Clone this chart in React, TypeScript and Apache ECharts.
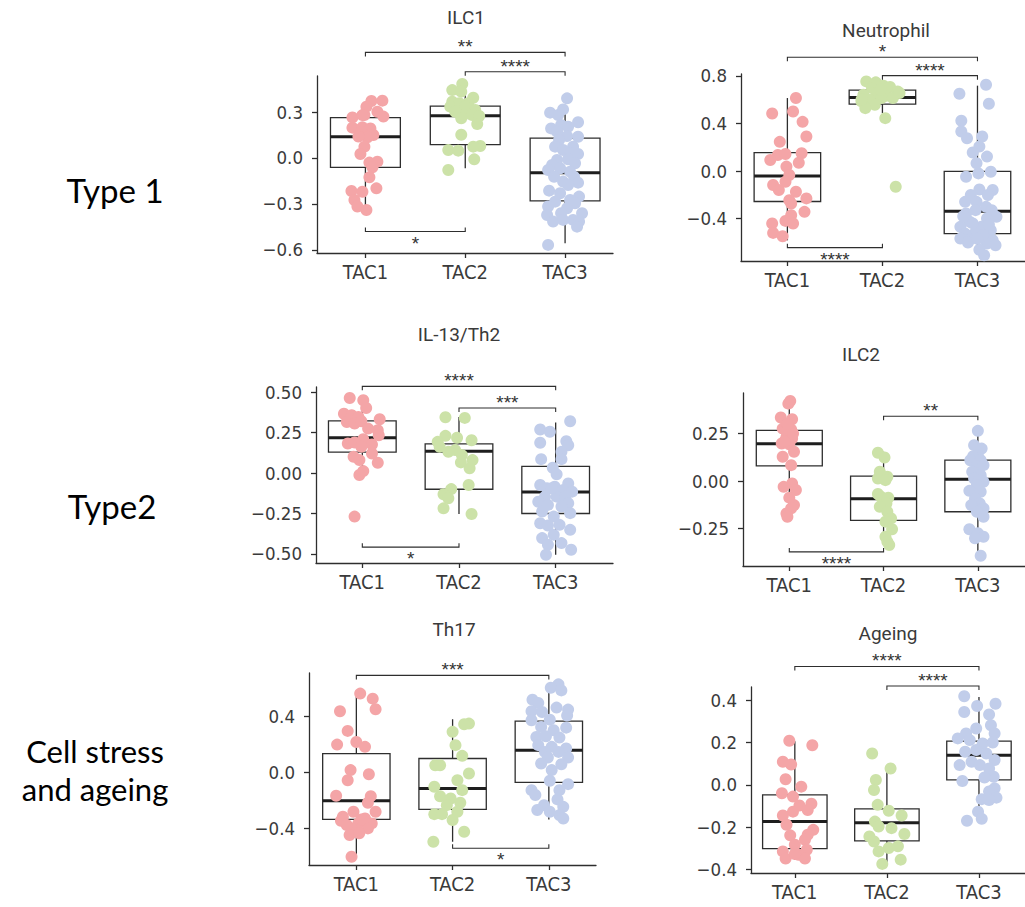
import React, { useEffect, useRef } from 'react';
import * as echarts from 'echarts';

// ---------- shared categories / styling values ----------
const groups = ['TAC1', 'TAC2', 'TAC3'];
const groupColors = ['#F4A5A7', '#CCE2A8', '#C1CDEA'];
const panelTitles = ['ILC1', 'Neutrophil', 'IL-13/Th2', 'ILC2', 'Th17', 'Ageing'];
const rowLabels = ['Type 1', 'Type2', 'Cell stress\nand ageing'];

// Box stats per group: [lower whisker, Q1, median, Q3, upper whisker]
// Brackets: [from group, to group, y value, side, significance stars]
// Points: [horizontal jitter (category units), score]

// ---------- ILC1 ----------
const ilc1Ticks = [-0.6, -0.3, 0, 0.3];
const ilc1Boxes = [
  [-0.34, -0.061, 0.139, 0.263, 0.36],
  [-0.067, 0.087, 0.276, 0.339, 0.448],
  [-0.557, -0.28, -0.096, 0.13, 0.29],
];
const ilc1Brackets = [
  [0, 2, 0.689, 'top', '**'],
  [1, 2, 0.563, 'top', '****'],
  [0, 1, -0.48, 'bottom', '*'],
];
const ilc1Tac1 = [
  [0.06, 0.372], [0.17, 0.374], [0.01, 0.335], [0.12, 0.302], [0.18, 0.27], [-0.13, 0.265],
  [-0.01, 0.28], [-0.03, 0.28], [-0.13, 0.198], [-0.03, 0.2], [0.05, 0.193], [-0.04, 0.172],
  [0.08, 0.15], [0.02, 0.135], [-0.07, 0.14], [-0.01, 0.074], [-0.05, 0.026], [0.04, -0.03],
  [0.12, -0.024], [0.07, -0.061], [0.04, -0.126], [0.11, -0.198], [-0.14, -0.215], [-0.03, -0.22],
  [-0.11, -0.274], [-0.08, -0.317], [0.01, -0.339],
];
const ilc1Tac2 = [
  [-0.03, 0.483], [-0.13, 0.443], [-0.04, 0.433], [0.08, 0.393], [-0.13, 0.367], [-0.06, 0.357],
  [0.03, 0.357], [-0.15, 0.335], [0, 0.335], [0.1, 0.313], [-0.1, 0.302], [-0.02, 0.28],
  [0.07, 0.28], [0.14, 0.274], [-0.04, 0.259], [0.12, 0.222], [-0.04, 0.152], [0.15, 0.078],
  [0.08, 0.074], [-0.17, 0.052], [-0.07, 0.048], [0.09, -0.009], [-0.17, -0.078],
];
const ilc1Tac3 = [
  [0.02, 0.389], [-0.15, 0.296], [-0.07, 0.28], [-0.02, 0.317], [0.13, 0.233], [-0.04, 0.215],
  [-0.14, 0.193], [0.03, 0.204], [-0.08, 0.172], [0.02, 0.143], [0.13, 0.139], [-0.06, 0.117],
  [-0.1, 0.074], [0.08, 0.074], [-0.02, 0.052], [0.05, 0.03], [0.13, 0.026], [-0.08, -0.013],
  [0.03, -0.009], [0.1, -0.035], [-0.13, -0.046], [-0.05, -0.067], [-0.17, -0.078], [0.05, -0.089],
  [-0.11, -0.122], [0.09, -0.122], [-0.02, -0.154], [0.13, -0.161], [0.03, -0.176], [-0.16, -0.213],
  [-0.05, -0.23], [0.14, -0.252], [0.05, -0.274], [-0.1, -0.285], [0.1, -0.296], [-0.17, -0.317],
  [0.02, -0.328], [-0.04, -0.361], [-0.18, -0.372], [0.17, -0.361], [0.08, -0.404], [-0.12, -0.415],
  [-0.02, -0.404], [0.14, -0.415], [0.12, -0.448], [-0.17, -0.567],
];

// ---------- Neutrophil ----------
const neutrophilTicks = [-0.4, 0, 0.4, 0.8];
const neutrophilBoxes = [
  [-0.582, -0.256, -0.042, 0.155, 0.613],
  [0.486, 0.562, 0.618, 0.68, 0.76],
  [-0.7, -0.526, -0.337, -0.003, 0.717],
];
const neutrophilBrackets = [
  [0, 2, 0.956, 'top', '*'],
  [1, 2, 0.801, 'top', '****'],
  [0, 1, -0.644, 'bottom', '****'],
];
const neutrophilTac1 = [
  [0.09, 0.613], [-0.16, 0.483], [0.06, 0.5], [0.16, 0.413], [0.2, 0.29], [-0.08, 0.245],
  [-0.1, 0.135], [-0.02, 0.143], [0.15, 0.149], [-0.18, 0.093], [0.12, 0.07], [-0.01, 0.037],
  [0.02, -0.034], [-0.15, -0.118], [-0.02, -0.09], [-0.09, -0.16], [0.09, -0.174], [0.2, -0.23],
  [0.02, -0.245], [0.04, -0.273], [0.18, -0.343], [0.04, -0.371], [-0.02, -0.419], [0.06, -0.441],
  [-0.16, -0.441], [-0.15, -0.52], [-0.05, -0.548],
];
const neutrophilTac2 = [
  [-0.17, 0.753], [-0.07, 0.745], [0.01, 0.717], [-0.11, 0.697], [0.08, 0.706], [0.16, 0.669],
  [-0.2, 0.641], [-0.06, 0.655], [0.04, 0.632], [-0.13, 0.599], [-0.01, 0.613], [0.11, 0.613],
  [-0.22, 0.585], [-0.08, 0.557], [-0.18, 0.528], [0.03, 0.444], [0.14, -0.132], [-0.02, 0.683],
  [0.18, 0.655], [-0.22, 0.6],
];
const neutrophilTac3 = [
  [0.09, 0.725], [-0.19, 0.649], [0.12, 0.565], [-0.17, 0.422], [-0.17, 0.332], [-0.11, 0.275],
  [0.05, 0.29], [0.02, 0.205], [-0.05, 0.155], [0.1, 0.121], [-0.01, 0.065], [0.14, -0.006],
  [0.01, -0.02], [-0.12, -0.048], [0.16, -0.16], [0.02, -0.155], [-0.07, -0.202], [-0.13, -0.259],
  [-0.01, -0.259], [0.11, -0.202], [0.09, -0.301], [-0.02, -0.329], [-0.12, -0.357], [0.15, -0.329],
  [0.2, -0.385], [-0.08, -0.427], [0.1, -0.399], [-0.18, -0.469], [0.04, -0.469], [-0.02, -0.512],
  [0.14, -0.498], [-0.13, -0.526], [-0.18, -0.568], [-0.09, -0.582], [0.16, -0.582], [0.1, -0.61],
  [0.19, -0.624], [0.02, -0.661], [0.07, -0.708], [-0.05, -0.44], [0.06, -0.54], [-0.1, -0.6],
  [0.12, -0.45], [-0.15, -0.38], [0, -0.57],
];

// ---------- IL-13/Th2 ----------
const il13Ticks = [-0.5, -0.25, 0, 0.25, 0.5];
const il13Boxes = [
  [0.029, 0.129, 0.218, 0.322, 0.4],
  [-0.253, -0.1, 0.135, 0.181, 0.347],
  [-0.505, -0.25, -0.117, 0.041, 0.312],
];
const il13Brackets = [
  [0, 2, 0.536, 'top', '****'],
  [1, 2, 0.402, 'top', '***'],
  [0, 1, -0.458, 'bottom', '*'],
];
const il13Tac1 = [
  [-0.13, 0.464], [0.01, 0.45], [0.04, 0.402], [-0.19, 0.367], [-0.11, 0.357], [-0.04, 0.347],
  [0.18, 0.333], [-0.16, 0.316], [-0.08, 0.306], [-0.01, 0.32], [0.16, 0.265], [0.06, 0.275],
  [0.17, 0.234], [0.01, 0.209], [-0.15, 0.183], [-0.08, 0.189], [0.1, 0.177], [-0.01, 0.162],
  [-0.09, 0.101], [0.1, 0.121], [-0.03, 0.08], [0.16, 0.064], [0.01, 0.012], [-0.03, -0.012],
  [-0.08, -0.269],
];
const il13Tac2 = [
  [-0.14, 0.345], [0.06, 0.341], [-0.14, 0.23], [-0.02, 0.218], [0.13, 0.203], [-0.22, 0.193],
  [-0.2, 0.162], [-0.04, 0.142], [-0.11, 0.131], [0.03, 0.111], [0.14, 0.08], [0.02, 0.066],
  [0.11, 0.029], [0.1, -0.074], [-0.08, -0.099], [-0.16, -0.131], [-0.11, -0.156], [-0.16, -0.218],
  [0.13, -0.253],
];
const il13Tac3 = [
  [0.15, 0.32], [-0.16, 0.269], [-0.06, 0.255], [0.11, 0.197], [-0.16, 0.187], [0.13, 0.172],
  [0.06, 0.131], [-0.15, 0.086], [0.06, 0.086], [-0.03, 0.033], [0.01, -0.008], [0.13, -0.064],
  [-0.16, -0.074], [-0.09, -0.094], [-0.01, -0.084], [0.08, -0.105], [0.17, -0.115], [-0.11, -0.146],
  [0.01, -0.146], [0.1, -0.146], [-0.18, -0.177], [0.13, -0.187], [-0.08, -0.197], [0.06, -0.207],
  [-0.14, -0.238], [0.15, -0.248], [-0.02, -0.269], [-0.16, -0.31], [-0.08, -0.324], [0.04, -0.32],
  [0.15, -0.351], [-0.02, -0.382], [-0.14, -0.402], [-0.08, -0.443], [0.06, -0.433], [0.16, -0.474],
  [-0.1, -0.505], [-0.04, -0.094],
];

// ---------- ILC2 ----------
const ilc2Ticks = [-0.25, 0, 0.25];
const ilc2Boxes = [
  [-0.17, 0.08, 0.196, 0.267, 0.416],
  [-0.327, -0.206, -0.093, 0.026, 0.154],
  [-0.388, -0.161, 0.01, 0.11, 0.267],
];
const ilc2Brackets = [
  [1, 2, 0.341, 'top', '**'],
  [0, 1, -0.372, 'bottom', '****'],
];
const ilc2Tac1 = [
  [0.01, 0.421], [-0.01, 0.407], [-0.09, 0.334], [0.03, 0.325], [-0.07, 0.276], [0.02, 0.271],
  [-0.03, 0.232], [0.03, 0.224], [-0.08, 0.198], [0, 0.194], [0.05, 0.154], [-0.07, 0.128],
  [0.02, 0.084], [0.03, -0.012], [-0.06, -0.03], [0.07, -0.047], [0, -0.087], [0.05, -0.126],
  [0.02, -0.143], [-0.03, -0.17], [-0.02, -0.187], [-0.05, 0.21], [0.04, 0.25], [-0.02, 0.3],
];
const ilc2Tac2 = [
  [-0.06, 0.149], [0.01, 0.124], [-0.04, 0.049], [0.04, 0.023], [-0.06, 0.014], [0.02, 0.005],
  [-0.03, -0.082], [-0.06, -0.068], [0.05, -0.087], [0.03, -0.117], [-0.04, -0.135], [0.04, -0.161],
  [0.08, -0.196], [0.02, -0.213], [0.09, -0.253], [0.02, -0.292], [0.04, -0.318], [0.06, -0.336],
];
const ilc2Tac3 = [
  [0, 0.264], [-0.04, 0.189], [0.04, 0.171], [0, 0.136], [-0.05, 0.131], [-0.08, 0.11],
  [0.03, 0.11], [-0.01, 0.079], [0.06, 0.084], [-0.06, 0.049], [0.03, 0.031], [-0.04, 0.014],
  [0.06, -0.003], [0.01, 0.005], [-0.01, -0.021], [-0.09, -0.051], [0.03, -0.056], [-0.03, -0.091],
  [0.02, -0.117], [-0.07, -0.126], [0.06, -0.143], [-0.01, -0.161], [0.06, -0.187], [-0.09, -0.253],
  [0, -0.274], [0.06, -0.292], [-0.03, -0.3], [0.03, -0.392],
];

// ---------- Th17 ----------
const th17Ticks = [-0.4, 0, 0.4];
const th17Boxes = [
  [-0.6, -0.335, -0.202, 0.135, 0.544],
  [-0.494, -0.263, -0.114, 0.1, 0.38],
  [-0.335, -0.071, 0.159, 0.366, 0.575],
];
const th17Brackets = [
  [0, 2, 0.693, 'top', '***'],
  [1, 2, -0.541, 'bottom', '*'],
];
const th17Tac1 = [
  [0.04, 0.563], [0.17, 0.527], [0.2, 0.451], [-0.17, 0.437], [-0.09, 0.297], [0, 0.218],
  [-0.2, 0.199], [0.09, 0.183], [-0.06, 0.017], [-0.09, -0.055], [0.13, -0.012], [-0.21, -0.166],
  [0.15, -0.169], [0.12, -0.216], [-0.03, -0.28], [0.2, -0.28], [-0.14, -0.316], [0.09, -0.328],
  [-0.16, -0.344], [0.02, -0.363], [0.16, -0.363], [-0.05, -0.399], [0.12, -0.399], [-0.07, -0.446],
  [0.03, -0.434], [-0.05, -0.601], [0.05, -0.335], [-0.1, -0.375],
];
const th17Tac2 = [
  [0.17, 0.349], [0.12, 0.344], [0, 0.29], [0.03, 0.195], [0.1, 0.119], [-0.18, 0.052],
  [-0.13, 0.052], [0.17, -0.007], [0.05, -0.055], [-0.19, -0.102], [0.1, -0.126], [-0.13, -0.169],
  [-0.02, -0.185], [0.08, -0.216], [-0.06, -0.233], [-0.19, -0.297], [-0.11, -0.297], [0.05, -0.28],
  [0, -0.339], [0.12, -0.423], [-0.2, -0.494],
];
const th17Tac3 = [
  [0.1, 0.629], [0.02, 0.605], [0.13, 0.586], [-0.17, 0.52], [-0.11, 0.496], [0.08, 0.463],
  [0.2, 0.449], [-0.18, 0.437], [-0.07, 0.432], [0.19, 0.406], [-0.18, 0.373], [0.01, 0.377],
  [0.18, 0.32], [-0.08, 0.325], [0.05, 0.302], [-0.13, 0.254], [-0.03, 0.259], [0.11, 0.249],
  [-0.11, 0.195], [0.03, 0.183], [0.18, 0.171], [-0.04, 0.147], [0.1, 0.147], [0.2, 0.107],
  [-0.01, 0.107], [-0.08, 0.064], [0.13, 0.059], [0.03, 0.017], [0.01, -0.059], [0.2, -0.083],
  [0.11, -0.126], [-0.18, -0.126], [-0.14, -0.161], [0.09, -0.192], [-0.05, -0.233], [0.15, -0.245],
  [-0.12, -0.268], [0.01, -0.28], [0.11, -0.304], [0.15, -0.328],
];

// ---------- Ageing ----------
const ageingTicks = [-0.4, -0.2, 0, 0.2, 0.4];
const ageingBoxes = [
  [-0.353, -0.301, -0.173, -0.047, 0.207],
  [-0.369, -0.264, -0.179, -0.113, 0.066],
  [-0.157, 0.024, 0.141, 0.207, 0.416],
];
const ageingBrackets = [
  [0, 2, 0.56, 'top', '****'],
  [1, 2, 0.468, 'top', '****'],
];
const ageingTac1 = [
  [-0.06, 0.209], [0.19, 0.188], [-0.13, 0.11], [-0.04, 0.097], [-0.1, 0.027], [0.07, -0.008],
  [-0.14, -0.039], [-0.02, -0.055], [0.18, -0.089], [0.05, -0.097], [-0.02, -0.126], [-0.13, -0.144],
  [0.14, -0.118], [-0.09, -0.188], [0.2, -0.212], [0.14, -0.235], [-0.05, -0.238], [0.11, -0.259],
  [0, -0.282], [-0.13, -0.314], [0.13, -0.306], [0.04, -0.33], [-0.1, -0.348], [0.11, -0.348],
  [0, -0.326],
];
const ageingTac2 = [
  [-0.16, 0.149], [0.04, 0.078], [-0.12, 0.024], [-0.14, -0.024], [-0.1, -0.094], [0.02, -0.122],
  [0.16, -0.144], [-0.13, -0.173], [0.05, -0.204], [-0.09, -0.196], [0.19, -0.232], [-0.19, -0.243],
  [-0.14, -0.267], [0.02, -0.298], [0.12, -0.29], [-0.09, -0.314], [0.15, -0.353], [-0.05, -0.373],
];
const ageingTac3 = [
  [-0.16, 0.419], [-0.02, 0.373], [0.18, 0.384], [-0.16, 0.345], [0.11, 0.333], [-0.03, 0.267],
  [0.13, 0.282], [-0.14, 0.243], [0.17, 0.243], [-0.23, 0.22], [-0.1, 0.212], [0.04, 0.196],
  [0.15, 0.201], [-0.15, 0.157], [-0.03, 0.165], [0.08, 0.149], [0.17, 0.118], [-0.08, 0.11],
  [-0.21, 0.094], [0.01, 0.094], [0.11, 0.078], [0.16, 0.039], [0.06, 0.035], [-0.18, 0.019],
  [0.17, -0.016], [0.11, -0.031], [0.19, -0.06], [0.03, -0.067], [0.11, -0.071], [-0.01, -0.126],
  [-0.13, -0.169], [0.03, -0.16],
];

// ---------- panel layout (page pixels) ----------
const panels = [
  { title: panelTitles[0], ticks: ilc1Ticks, decimals: 1, boxes: ilc1Boxes, brackets: ilc1Brackets,
    points: [ilc1Tac1, ilc1Tac2, ilc1Tac3],
    left: 317, top: 76, width: 296, height: 177, xMin: -0.485, xMax: 2.48, yMin: -0.62, yMax: 0.535,
    titleX: 466, titleY: 17 },
  { title: panelTitles[1], ticks: neutrophilTicks, decimals: 1, boxes: neutrophilBoxes, brackets: neutrophilBrackets,
    points: [neutrophilTac1, neutrophilTac2, neutrophilTac3],
    left: 741, top: 74, width: 290, height: 187, xMin: -0.488, xMax: 2.5, yMin: -0.756, yMax: 0.815,
    titleX: 886, titleY: 30 },
  { title: panelTitles[2], ticks: il13Ticks, decimals: 2, boxes: il13Boxes, brackets: il13Brackets,
    points: [il13Tac1, il13Tac2, il13Tac3],
    left: 316, top: 387, width: 297, height: 176, xMin: -0.479, xMax: 2.593, yMin: -0.556, yMax: 0.532,
    titleX: 459, titleY: 334 },
  { title: panelTitles[3], ticks: ilc2Ticks, decimals: 2, boxes: ilc2Boxes, brackets: ilc2Brackets,
    points: [ilc2Tac1, ilc2Tac2, ilc2Tac3],
    left: 743, top: 393, width: 288, height: 173, xMin: -0.491, xMax: 2.5, yMin: -0.446, yMax: 0.463,
    titleX: 861, titleY: 354 },
  { title: panelTitles[4], ticks: th17Ticks, decimals: 1, boxes: th17Boxes, brackets: th17Brackets,
    points: [th17Tac1, th17Tac2, th17Tac3],
    left: 309, top: 673, width: 287, height: 192, xMin: -0.492, xMax: 2.49, yMin: -0.66, yMax: 0.71,
    titleX: 454, titleY: 629 },
  { title: panelTitles[5], ticks: ageingTicks, decimals: 1, boxes: ageingBoxes, brackets: ageingBrackets,
    points: [ageingTac1, ageingTac2, ageingTac3],
    left: 751, top: 687, width: 277, height: 186, xMin: -0.476, xMax: 2.5, yMin: -0.416, yMax: 0.463,
    titleX: 888, titleY: 633 },
];

const AXIS_COLOR = '#2e2e2e';
const LABEL_COLOR = '#3a3a3a';
const NARROW = "'Liberation Sans Narrow', 'DejaVu Sans Condensed', 'Roboto Condensed', Roboto, sans-serif";

const fmt = (v: number, d: number) => v.toFixed(d).replace('-', '\u2212');

const BOX_HALF = 0.35;

function renderBox(params: any, api: any) {
  const x = api.value(0);
  const lo = api.coord([x, api.value(1)]);
  const q1 = api.coord([x, api.value(2)]);
  const med = api.coord([x, api.value(3)]);
  const q3 = api.coord([x, api.value(4)]);
  const hi = api.coord([x, api.value(5)]);
  const l = api.coord([x - BOX_HALF, 0])[0];
  const r = api.coord([x + BOX_HALF, 0])[0];
  const cx = lo[0];
  const stroke = { stroke: AXIS_COLOR, lineWidth: 1.3 };
  return {
    type: 'group',
    children: [
      { type: 'line', shape: { x1: cx, y1: hi[1], x2: cx, y2: q3[1] }, style: stroke },
      { type: 'line', shape: { x1: cx, y1: q1[1], x2: cx, y2: lo[1] }, style: stroke },
      { type: 'rect', shape: { x: l, y: q3[1], width: r - l, height: q1[1] - q3[1] },
        style: { fill: '#ffffff', stroke: AXIS_COLOR, lineWidth: 1.3 } },
      { type: 'line', shape: { x1: l, y1: med[1], x2: r, y2: med[1] },
        style: { stroke: '#1e1e1e', lineWidth: 3 } },
    ],
  };
}

function makeBracketRenderer(brackets: any[]) {
  return (params: any, api: any) => {
    const b = brackets[params.dataIndex];
    const p1 = api.coord([api.value(0), api.value(2)]);
    const p2 = api.coord([api.value(1), api.value(2)]);
    const isTop = b[3] === 'top';
    const tick = isTop ? 4 : -4;
    const textY = isTop ? p1[1] - 5.5 : p1[1] + 11.5;
    return {
      type: 'group',
      children: [
        {
          type: 'polyline',
          shape: { points: [[p1[0], p1[1] + tick], [p1[0], p1[1]], [p2[0], p2[1]], [p2[0], p2[1] + tick]] },
          style: { stroke: AXIS_COLOR, lineWidth: 1.1, fill: null },
        },
        {
          type: 'text',
          x: (p1[0] + p2[0]) / 2,
          y: textY,
          style: {
            text: b[4], fill: '#333333', fontSize: 19, fontFamily: "'Liberation Sans', Arial, sans-serif",
            align: 'center', verticalAlign: 'middle', textAlign: 'center', textVerticalAlign: 'middle',
          },
        },
      ],
    };
  };
}

function buildOption() {
  const grid: any[] = [];
  const xAxis: any[] = [];
  const yAxis: any[] = [];
  const series: any[] = [];

  panels.forEach((p, i) => {
    grid.push({ left: p.left, top: p.top, width: p.width, height: p.height });
    xAxis.push({
      type: 'value', gridIndex: i, min: p.xMin, max: p.xMax,
      axisLine: { show: true, onZero: false, lineStyle: { color: AXIS_COLOR, width: 1.3 } },
      axisTick: { show: true, length: 5, customValues: [0, 1, 2], lineStyle: { color: AXIS_COLOR, width: 1.3 } },
      axisLabel: {
        customValues: [0, 1, 2], formatter: (v: number) => groups[Math.round(v)] ?? '',
        margin: 9, fontSize: 20, color: LABEL_COLOR, fontFamily: NARROW,
      },
      splitLine: { show: false },
    });
    yAxis.push({
      type: 'value', gridIndex: i, min: p.yMin, max: p.yMax,
      axisLine: { show: true, onZero: false, lineStyle: { color: AXIS_COLOR, width: 1.3 } },
      axisTick: { show: true, length: 5, customValues: p.ticks, lineStyle: { color: AXIS_COLOR, width: 1.3 } },
      axisLabel: {
        customValues: p.ticks, formatter: (v: number) => fmt(v, p.decimals),
        margin: 14, fontSize: 18.5, color: LABEL_COLOR, fontFamily: NARROW,
      },
      splitLine: { show: false },
    });

    series.push({
      type: 'custom', xAxisIndex: i, yAxisIndex: i, clip: false, silent: true, z: 2,
      encode: { x: 0, y: [1, 2, 3, 4, 5] },
      data: p.boxes.map((b, g) => [g, ...b]),
      renderItem: renderBox,
    });

    p.points.forEach((pts, g) => {
      series.push({
        type: 'scatter', xAxisIndex: i, yAxisIndex: i, silent: true, z: 3,
        symbol: 'circle', symbolSize: 12,
        itemStyle: { color: groupColors[g], opacity: 1 },
        data: pts.map(([j, v]) => [g + j, v]),
      });
    });

    series.push({
      type: 'custom', xAxisIndex: i, yAxisIndex: i, clip: false, silent: true, z: 4,
      encode: { x: [0, 1], y: 2 },
      data: p.brackets.map((b) => [b[0], b[1], b[2]]),
      renderItem: makeBracketRenderer(p.brackets),
    });
  });

  const textStyle = (text: string, size: number, family: string, color: string, lineHeight?: number) => ({
    text, fill: color, fontSize: size, fontFamily: family, lineHeight,
    align: 'center', verticalAlign: 'middle', textAlign: 'center', textVerticalAlign: 'middle',
  });

  const graphic: any[] = [
    ...panels.map((p) => ({
      type: 'text', x: p.titleX, y: p.titleY, silent: true,
      style: textStyle(p.title, 19, "Roboto, 'Liberation Sans', sans-serif", '#3a3a3a'),
    })),
    { type: 'text', x: 115, y: 190, silent: true, style: textStyle(rowLabels[0], 33, 'Lato, sans-serif', '#000000') },
    { type: 'text', x: 112, y: 506, silent: true, style: textStyle(rowLabels[1], 33, 'Lato, sans-serif', '#000000') },
    { type: 'text', x: 95, y: 770, silent: true, style: textStyle(rowLabels[2], 31, 'Lato, sans-serif', '#000000', 38) },
  ];

  return { animation: false, backgroundColor: '#ffffff', grid, xAxis, yAxis, series, graphic };
}

export default function App() {
  const ref = useRef<HTMLDivElement>(null);
  useEffect(() => {
    if (!ref.current) return;
    const chart = echarts.init(ref.current, undefined, { renderer: 'svg' });
    chart.setOption(buildOption() as any);
    return () => chart.dispose();
  }, []);
  return (
    <div
      ref={ref}
      style={{ position: 'absolute', left: 0, top: 0, width: 1025, height: 907 }}
    />
  );
}
